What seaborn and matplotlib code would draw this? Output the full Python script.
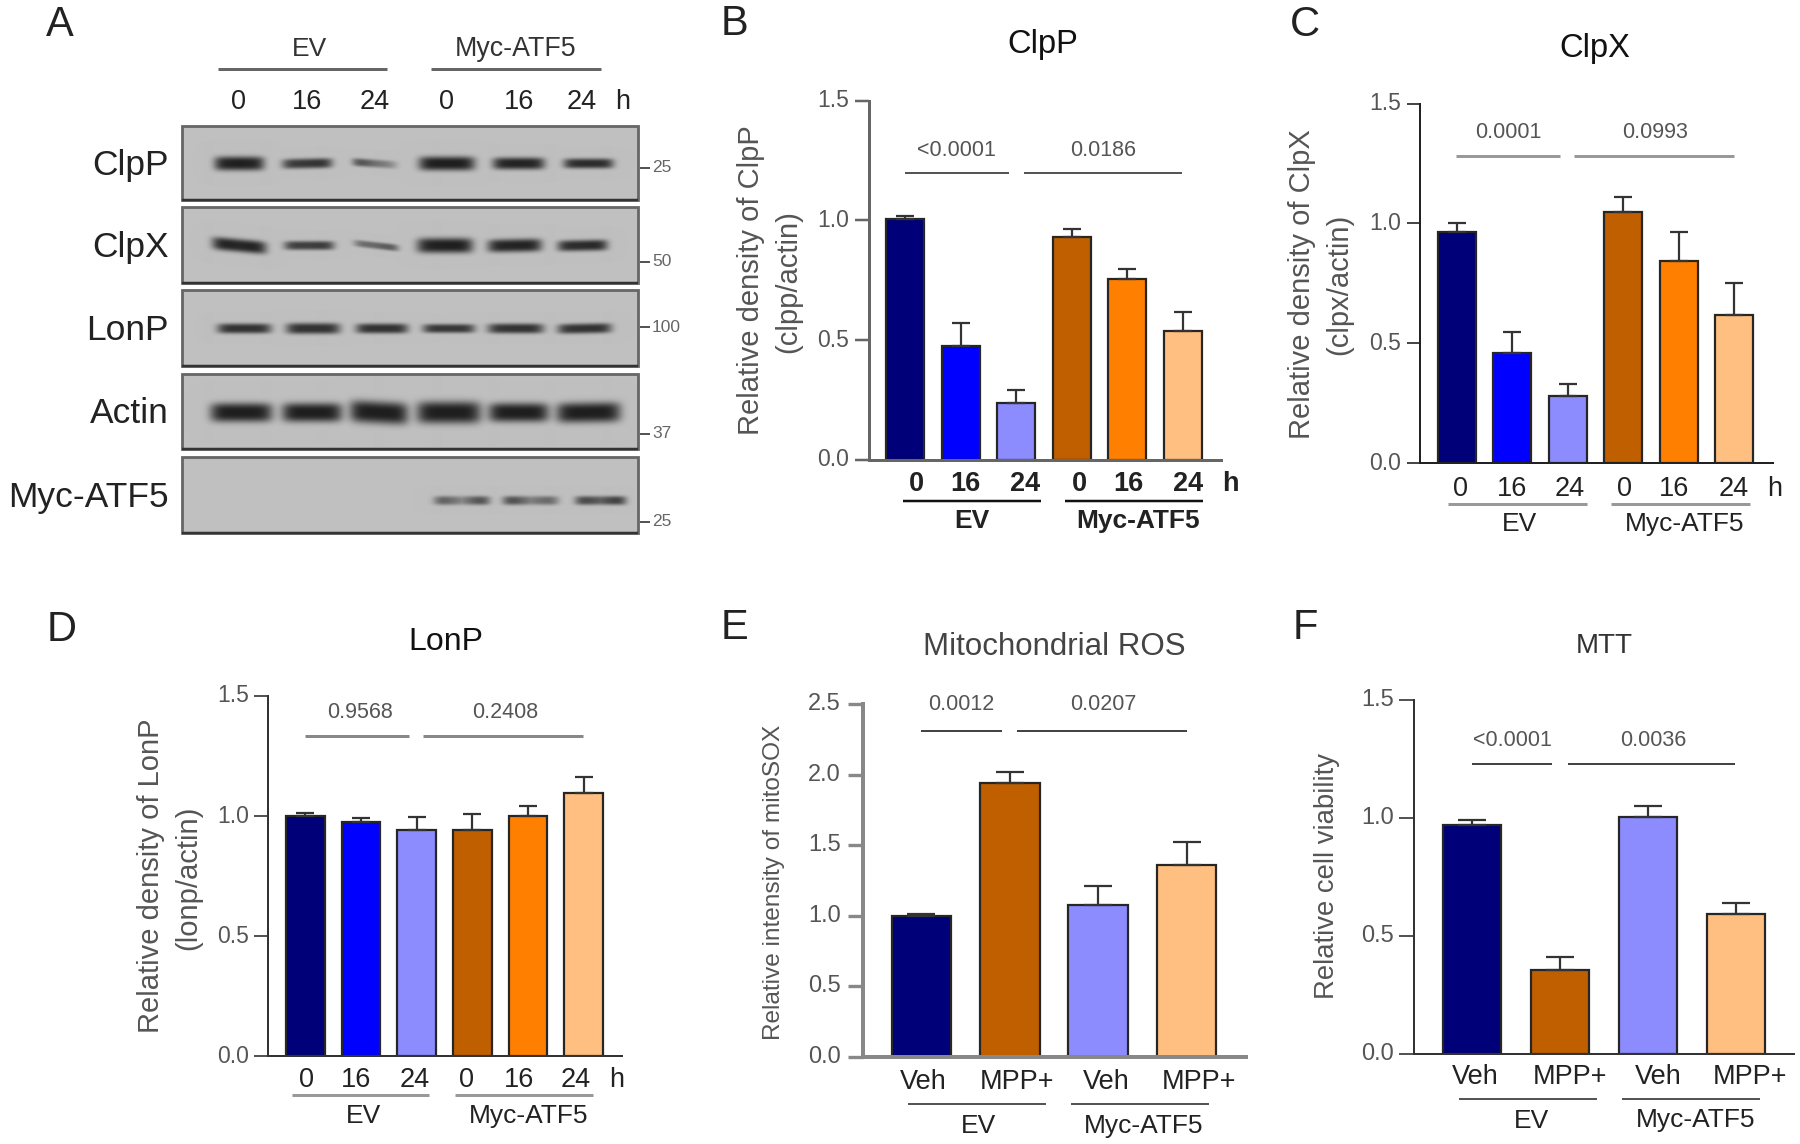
import numpy as np
import pandas as pd
import matplotlib
matplotlib.use("Agg")
import matplotlib.pyplot as plt
from matplotlib.patches import Rectangle
from matplotlib.transforms import ScaledTranslation
import seaborn as sns

# bar values
time_groups = ["EV 0", "EV 16", "EV 24", "Myc 0", "Myc 16", "Myc 24"]
mpp_groups = ["EV Veh", "EV MPP+", "Myc Veh", "Myc MPP+"]

clpp_vals = [1.008, 0.474, 0.236, 0.930, 0.754, 0.537]
clpp_errs = [0.010, 0.097, 0.056, 0.033, 0.042, 0.079]
clpx_vals = [0.964, 0.460, 0.279, 1.046, 0.842, 0.618]
clpx_errs = [0.037, 0.087, 0.049, 0.063, 0.122, 0.135]
lonp_vals = [1.000, 0.974, 0.944, 0.941, 1.000, 1.096]
lonp_errs = [0.015, 0.019, 0.053, 0.066, 0.041, 0.066]
ros_vals = [1.000, 1.944, 1.076, 1.361]
ros_errs = [0.013, 0.073, 0.135, 0.161]
mtt_vals = [0.970, 0.355, 1.003, 0.594]
mtt_errs = [0.020, 0.056, 0.047, 0.045]

time_colors = ["#000078", "#0000ff", "#8c8cff", "#bf5f00", "#ff8000", "#ffbf80"]
mpp_colors = ["#000078", "#bf5f00", "#8c8cff", "#ffbf80"]

hours = ["0", "16", "24", "0", "16", "24"]
treatments = ["Veh", "MPP+", "Veh", "MPP+"]

# western blot bands: darkness at left / middle / right of each band, thickness, tilt
blot_names = ["ClpP", "ClpX", "LonP", "Actin", "Myc-ATF5"]
clpp_dark = [(.95, 1, .95), (.8, .85, .9), (.8, .5, .3), (1, 1, 1), (.95, .97, .95), (.9, .92, .9)]
clpx_dark = [(1, .95, 1), (.8, .8, .85), (.5, .55, .7), (.95, 1, 1), (.95, .97, .97), (.9, .92, .95)]
lonp_dark = [(.88, .88, .88), (.88, .88, .88), (.88, .88, .88), (.85, .85, .85), (.85, .88, .88), (.85, .88, .88)]
actin_dark = [(1, 1, 1), (1, 1, 1), (1, 1, 1), (1, 1, 1), (1, 1, 1), (1, 1, 1)]
myc_dark = [(0, 0, 0), (0, 0, 0), (0, 0, 0), (.75, .35, .9), (.9, .4, .65), (.85, .6, .95)]
clpp_thick = [14, 10, 8, 14, 12, 10]
clpx_thick = [13, 9, 7, 15, 13, 11]
lonp_thick = [10, 11, 10, 9, 10, 10]
actin_thick = [19, 19, 22, 22, 19, 20]
myc_thick = [0, 0, 0, 9, 9, 9]
clpp_tilt = [0, -1, 3, 0, 0, 0]
clpx_tilt = [5, 0, 5, 0, -1, -1]
lonp_tilt = [0, 0, 0, 0, 0, -1]
actin_tilt = [0, 0, 3, 0, 0, -1]
myc_tilt = [0, 0, 0, 0, 0, 0]
blot_darks = [clpp_dark, clpx_dark, lonp_dark, actin_dark, myc_dark]
blot_thicks = [clpp_thick, clpx_thick, lonp_thick, actin_thick, myc_thick]
blot_tilts = [clpp_tilt, clpx_tilt, lonp_tilt, actin_tilt, myc_tilt]

# blot layout in pixels
blot_left, blot_right = 182, 638
blot_tops = [126, 207, 290, 374, 457]
blot_bottoms = [200, 283, 366, 449, 533]
band_ys = [163, 245, 328, 412, 500]
band_xs = [[239, 307, 375, 447, 519, 589], [239, 309, 376, 445, 515, 583],
           [244, 313, 382, 449, 516, 585], [241, 312, 379, 449, 519, 589],
           [239, 309, 376, 462, 531, 601]]
band_half = [[25, 25, 22, 28, 26, 25], [27, 25, 22, 28, 27, 25], [27, 27, 26, 26, 28, 27],
             [31, 30, 29, 32, 30, 32], [0, 0, 0, 27, 27, 25]]
mw_labels = ["25", "50", "100", "37", "25"]
mw_ys = [168, 262, 327, 434, 522]

sns.set_theme(style="white")
plt.rcParams["font.family"] = ["Liberation Sans", "DejaVu Sans"]

W, H = 1800, 1144
fig = plt.figure(figsize=(W / 100, H / 100), dpi=100)

# pixel canvas for the blots and all loose text
canvas = fig.add_axes([0, 0, 1, 1])
canvas.set_axis_off()


def txt(x, y, s, size, color="#333333", weight="normal", ha="center", rot=0):
    # anchor-centred text sits a little high, nudge it onto the reference
    if rot == 0:
        y = y + 3
    else:
        x = x + 3
    canvas.text(x, y, s, fontsize=size, color=color, fontweight=weight, ha=ha,
                va="center", rotation=rot, rotation_mode="anchor")


def rule(x0, x1, y, color, px):
    canvas.plot([x0, x1], [y, y], color=color, lw=px * 0.72, solid_capstyle="butt")


# panel A
xx, yy = np.meshgrid(np.arange(blot_left, blot_right + 1), np.arange(0, H))
for r, name in enumerate(blot_names):
    y0, y1 = blot_tops[r], blot_bottoms[r]
    img = np.full(xx[y0:y1].shape, 0.75)
    X, Y = xx[y0:y1], yy[y0:y1]
    for k in range(6):
        if blot_thicks[r][k] == 0:
            continue
        cx, hw = band_xs[r][k], band_half[r][k]
        u = (X - cx) / hw
        d = np.interp(u, [-1, 0, 1], blot_darks[r][k])
        cy = band_ys[r] + blot_tilts[r][k] * u / 2
        env = np.exp(-np.abs(u) ** 6) * np.exp(-np.abs((Y - cy) / (blot_thicks[r][k] / 2)) ** 3)
        img = img - 0.63 * d * env
    canvas.imshow(img, cmap="gray", vmin=0, vmax=1, aspect="auto", interpolation="bilinear",
                  extent=(blot_left, blot_right, y1, y0))
    canvas.add_patch(Rectangle((blot_left, y0), blot_right - blot_left, y1 - y0, fill=False,
                               edgecolor="#666666", lw=2))
    rule(blot_left, blot_right, y1, "#333333", 2.5)
    txt(169, (y0 + y1) / 2 - 1, name, 25.5, "#222222", ha="right")
    rule(640, 650, mw_ys[r], "#555555", 2)
    txt(652, mw_ys[r] - 3, mw_labels[r], 12.5, "#666666", ha="left")

txt(60, 22, "A", 30, "#222222")
txt(309, 46, "EV", 19, "#333333")
txt(516, 46, "Myc-ATF5", 19.3, "#333333")
rule(218, 387, 68.5, "#666666", 3)
rule(431, 601, 68.5, "#666666", 3)
for x, s in zip([239, 307, 375, 447, 519, 582, 623], hours + ["h"]):
    txt(x, 99, s, 19.5, "#222222")

# layout of the bar panels, pixels
panels = [
    dict(letter="B", lxy=(735, 21), title="ClpP", txy=(1043, 42), tsize=23.5, tcolor="#111111",
         vals=clpp_vals, errs=clpp_errs, names=time_groups, colors=time_colors, ymax=1.5, step=0.5,
         axis_x=868.6, axis_r=1221, y_top=100.7, y_0=460, first=905, spacing=55.6, width=38,
         axis_color="#666666", axis_px=3, ticklen=14.5, ticksize=16.5, tickr=849, cap=9,
         ylab=[("Relative density of ClpP", 748, 280, 21), ("(clpp/actin)", 785, 282, 21)],
         sig=[(905, 1009, 173, "<0.0001", 956, 147), (1023.5, 1182, 173, "0.0186", 1103, 147)], sig_color="#555555", sig_px=2,
         xt=["0", "16", "24", "0", "16", "24", "h"], xt_x=[916, 965, 1025, 1079.5, 1128.4, 1188, 1230], xt_y=481, xt_weight="bold", xt_size=19.5,
         grp=[(903, 1041, 972), (1065, 1203, 1138.4)], grp_y=500.5, grp_ty=518, grp_color="#111111", grp_px=2.5, grp_weight="bold"),
    dict(letter="C", lxy=(1305, 22), title="ClpX", txy=(1595, 46), tsize=23.5, tcolor="#111111",
         vals=clpx_vals, errs=clpx_errs, names=time_groups, colors=time_colors, ymax=1.5, step=0.5,
         axis_x=1419.5, axis_r=1772.5, y_top=103.6, y_0=463, first=1457, spacing=55.4, width=38,
         axis_color="#222222", axis_px=2, ticklen=13.5, ticksize=16.5, tickr=1401, cap=9,
         ylab=[("Relative density of ClpX", 1298.6, 284, 21), ("(clpx/actin)", 1335.8, 284, 21)],
         sig=[(1456, 1560, 155.7, "0.0001", 1508.7, 130), (1574, 1734, 155.7, "0.0993", 1654.7, 130)], sig_color="#999999", sig_px=3,
         xt=["0", "16", "24", "0", "16", "24", "h"], xt_x=[1460.8, 1512.4, 1570, 1624, 1674, 1733.6, 1775], xt_y=486, xt_weight="normal", xt_size=19.5,
         grp=[(1447.7, 1586.5, 1520), (1611, 1750, 1684.3)], grp_y=504, grp_ty=521, grp_color="#999999", grp_px=3, grp_weight="normal"),
    dict(letter="D", lxy=(62, 627), title="LonP", txy=(446, 639.5), tsize=23, tcolor="#111111",
         vals=lonp_vals, errs=lonp_errs, names=time_groups, colors=time_colors, ymax=1.5, step=0.5,
         axis_x=268, axis_r=622, y_top=696, y_0=1056.4, first=305.3, spacing=55.7, width=38.8,
         axis_color="#333333", axis_px=2, ticklen=14, ticksize=16.5, tickr=249, cap=9,
         ylab=[("Relative density of LonP", 148, 876, 21), ("(lonp/actin)", 185.6, 878, 21)],
         sig=[(305, 409, 736, "0.9568", 360, 710), (423, 583, 736, "0.2408", 505, 710)], sig_color="#888888", sig_px=3,
         xt=["0", "16", "24", "0", "16", "24", "h"], xt_x=[306, 356, 415, 467, 519, 576, 617], xt_y=1077, xt_weight="normal", xt_size=19.5,
         grp=[(292, 429, 363), (455, 593, 529)], grp_y=1095, grp_ty=1113, grp_color="#999999", grp_px=3, grp_weight="normal"),
    dict(letter="E", lxy=(735, 625), title="Mitochondrial ROS", txy=(1054, 644), tsize=22.5, tcolor="#444444",
         vals=ros_vals, errs=ros_errs, names=mpp_groups, colors=mpp_colors, ymax=2.5, step=0.5,
         axis_x=862.5, axis_r=1246, y_top=704, y_0=1057, first=921.4, spacing=88.4, width=59.6,
         axis_color="#888888", axis_px=4, ticklen=15, ticksize=17, tickr=841, cap=14,
         ylab=[("Relative intensity of mitoSOX", 771, 882.5, 17.6)],
         sig=[(921, 1002, 731, "0.0012", 961.7, 702), (1017, 1187, 731, "0.0207", 1103.4, 702)], sig_color="#444444", sig_px=2,
         xt=treatments, xt_x=[923.5, 1017, 1106, 1199], xt_y=1079, xt_weight="normal", xt_size=19.5,
         grp=[(908, 1046, 978.5), (1071, 1209, 1144)], grp_y=1104, grp_ty=1123, grp_color="#555555", grp_px=2, grp_weight="normal"),
    dict(letter="F", lxy=(1305, 625), title="MTT", txy=(1604, 643), tsize=20, tcolor="#333333",
         vals=mtt_vals, errs=mtt_errs, names=mpp_groups, colors=mpp_colors, ymax=1.5, step=0.5,
         axis_x=1414, axis_r=1794, y_top=700, y_0=1053.5, first=1472, spacing=88, width=58.5,
         axis_color="#333333", axis_px=2, ticklen=15.5, ticksize=17, tickr=1393.6, cap=14,
         ylab=[("Relative cell viability", 1324, 876, 19.8)],
         sig=[(1472, 1552, 763.5, "<0.0001", 1512.4, 738), (1567.5, 1735, 763.5, "0.0036", 1653.3, 738)], sig_color="#444444", sig_px=2,
         xt=treatments, xt_x=[1475, 1570, 1658, 1750], xt_y=1074, xt_weight="normal", xt_size=19.5,
         grp=[(1459, 1597, 1531), (1622, 1760, 1696)], grp_y=1099, grp_ty=1117.5, grp_color="#555555", grp_px=2, grp_weight="normal"),
]

for p in panels:
    ax = fig.add_axes([p["axis_x"] / W, 1 - p["y_0"] / H,
                       (p["axis_r"] - p["axis_x"]) / W, (p["y_0"] - p["y_top"]) / H])
    ax.patch.set_visible(False)
    df = pd.DataFrame({"group": p["names"], "value": p["vals"]})
    sns.barplot(data=df, x="group", y="value", hue="group", palette=p["colors"], legend=False,
                errorbar=None, saturation=1, width=p["width"] / p["spacing"],
                edgecolor="#262626", linewidth=1.6, ax=ax)
    ax.errorbar(range(len(p["vals"])), p["vals"], yerr=[np.zeros(len(p["errs"])), p["errs"]],
                fmt="none", ecolor="#333333", elinewidth=1.6, capsize=p["cap"] * 0.72, capthick=1.6, zorder=1)
    ax.set_xlim((p["axis_x"] - p["first"]) / p["spacing"], (p["axis_r"] - p["first"]) / p["spacing"])
    ax.set_ylim(0, p["ymax"])
    ax.set_xticks([])
    ax.set_yticks(np.arange(0, p["ymax"] + 0.01, p["step"]))
    ax.set_yticklabels(["%.1f" % t for t in ax.get_yticks()])
    ax.set_xlabel("")
    ax.set_ylabel("")
    ax.tick_params(axis="y", left=True, length=p["ticklen"] * 0.72, width=p["axis_px"] * 0.6, color=p["axis_color"],
                   pad=(p["axis_x"] - p["ticklen"] - p["tickr"]) * 0.72, labelsize=p["ticksize"], labelcolor="#555555")
    # tick labels sit slightly above their ticks in the reference
    up = ScaledTranslation(0, 2.5 / 100, fig.dpi_scale_trans)
    for lab in ax.get_yticklabels():
        lab.set_transform(lab.get_transform() + up)
    sns.despine(ax=ax)
    for side in ["left", "bottom"]:
        ax.spines[side].set_color(p["axis_color"])
        ax.spines[side].set_linewidth(p["axis_px"] * 0.72)

    txt(p["lxy"][0], p["lxy"][1], p["letter"], 30, "#222222")
    txt(p["txy"][0], p["txy"][1], p["title"], p["tsize"], p["tcolor"])
    for s, x, y, size in p["ylab"]:
        txt(x, y, s, size, "#555555", rot=90)
    for x0, x1, y, s, tx, ty in p["sig"]:
        rule(x0, x1, y, p["sig_color"], p["sig_px"])
        txt(tx, ty, s, 15.5, "#555555")
    for x, s in zip(p["xt_x"], p["xt"]):
        txt(x, p["xt_y"], s, p["xt_size"], "#222222", weight=p["xt_weight"])
    for (x0, x1, tx), s in zip(p["grp"], ["EV", "Myc-ATF5"]):
        rule(x0, x1, p["grp_y"], p["grp_color"], p["grp_px"])
        txt(tx, p["grp_ty"], s, 19, "#222222", weight=p["grp_weight"])

canvas.set_xlim(0, W)
canvas.set_ylim(H, 0)

fig.savefig("out.png", dpi=100, facecolor="white")
